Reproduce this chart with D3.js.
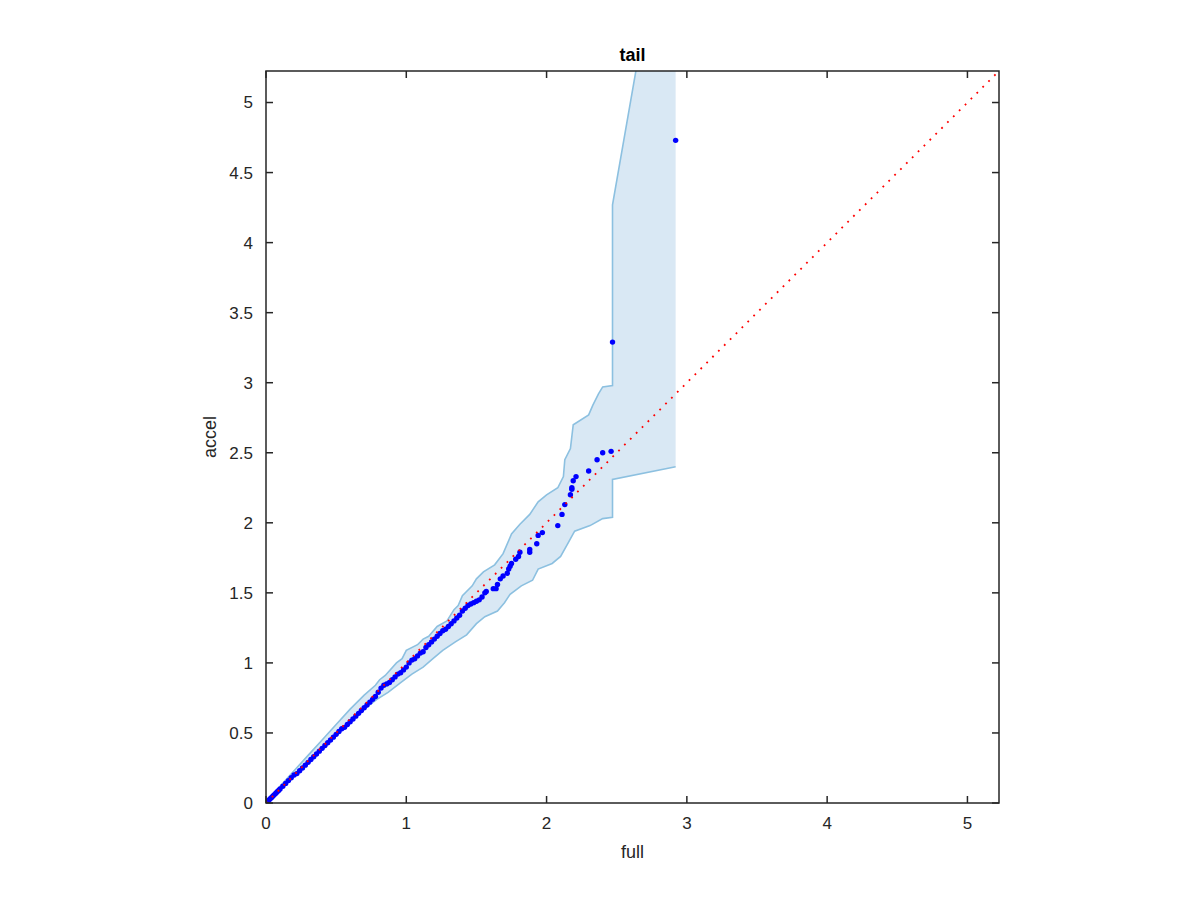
<!DOCTYPE html>
<meta charset="utf-8">
<style>
  body { margin: 0; background: #fff; }
  svg { font-family: 'Liberation Sans', Arial, sans-serif; }
</style>
<script src="https://d3js.org/d3.v7.min.js"></script>
<body>
<svg id="chart" width="1200" height="900"></svg>
<script>

// quantiles: full (x) vs accel (y)
var fullQ = [0.00,0.01,0.02,0.03,0.04,0.05,0.06,0.07,0.08,0.09,0.10,0.12,0.14,0.16,0.18,0.20,0.22,0.24,0.26,0.28,
  0.30,0.32,0.34,0.36,0.38,0.40,0.42,0.44,0.46,0.48,0.50,0.52,0.54,0.56,0.58,0.60,0.62,0.64,0.66,0.68,
  0.70,0.72,0.74,0.76,0.78,0.80,0.82,0.84,0.86,0.88,0.90,0.92,0.94,0.96,0.98,1.00,1.02,1.04,1.06,1.08,
  1.10,1.12,1.14,1.16,1.18,1.20,1.22,1.24,1.26,1.28,1.30,1.32,1.34,1.36,1.38,1.40,1.42,1.44,1.46,1.48,
  1.50,1.52,1.54,1.56,1.57,1.62,1.64,1.65,1.67,1.69,1.72,1.73,1.74,1.75,1.78,1.80,1.81,1.88,1.88,1.93,
  1.94,1.97,2.08,2.11,2.13,2.17,2.18,2.18,2.19,2.21,2.30,2.36,2.40,2.46,2.47,2.92];
var accelQ = [0.00,0.01,0.02,0.03,0.04,0.05,0.06,0.07,0.08,0.09,0.10,0.12,0.14,0.16,0.18,0.20,0.21,0.23,0.25,0.27,
  0.29,0.31,0.33,0.35,0.37,0.39,0.41,0.43,0.45,0.47,0.49,0.51,0.53,0.54,0.56,0.58,0.60,0.62,0.64,0.66,
  0.68,0.70,0.72,0.74,0.76,0.79,0.82,0.84,0.85,0.86,0.88,0.90,0.92,0.93,0.95,0.97,1.00,1.02,1.03,1.05,
  1.07,1.08,1.11,1.13,1.15,1.17,1.19,1.21,1.23,1.24,1.26,1.28,1.30,1.32,1.34,1.37,1.39,1.41,1.42,1.43,
  1.44,1.45,1.47,1.50,1.51,1.53,1.53,1.56,1.60,1.62,1.64,1.67,1.69,1.71,1.74,1.76,1.79,1.79,1.81,1.85,
  1.91,1.93,1.98,2.06,2.13,2.20,2.24,2.25,2.30,2.33,2.37,2.45,2.50,2.51,3.29,4.73];

// envelope, upper and lower edges
var upperX = [0,0.05,0.10,0.20,0.30,0.40,0.50,0.60,0.70,0.78,0.81,0.85,0.93,0.97,1.00,1.08,1.12,1.16,1.22,1.29,
  1.34,1.37,1.40,1.47,1.50,1.55,1.63,1.66,1.69,1.75,1.81,1.88,1.94,2.00,2.08,2.12,2.13,2.17,2.19,2.30,
  2.33,2.37,2.40,2.47,2.47,2.92];
var upperY = [0,0.06,0.12,0.23,0.34,0.45,0.56,0.67,0.77,0.84,0.88,0.91,1.00,1.03,1.09,1.13,1.17,1.19,1.26,1.30,
  1.38,1.41,1.48,1.55,1.60,1.65,1.70,1.74,1.78,1.92,1.99,2.06,2.15,2.20,2.25,2.33,2.45,2.53,2.70,2.77,
  2.84,2.92,2.97,2.98,4.27,6.85];
var lowerX = [0,0.10,0.20,0.30,0.40,0.50,0.60,0.70,0.79,0.87,0.96,1.00,1.04,1.12,1.19,1.26,1.35,1.43,1.50,1.56,
  1.65,1.70,1.74,1.82,1.90,1.94,2.04,2.10,2.15,2.20,2.31,2.40,2.47,2.47,2.92];
var lowerY = [0,0.09,0.19,0.28,0.38,0.48,0.58,0.67,0.74,0.79,0.86,0.89,0.92,0.97,1.03,1.09,1.15,1.20,1.28,1.33,
  1.37,1.43,1.49,1.55,1.59,1.67,1.71,1.76,1.85,1.94,1.98,2.03,2.04,2.31,2.40];

var xTicks = [0,1,2,3,4,5];
var yTicks = [0,0.5,1,1.5,2,2.5,3,3.5,4,4.5,5];

var svg = d3.select("#chart"),
    margin = {top: 71, left: 266},
    w = 733, h = 732,
    lim = 5.225;

var x = d3.scaleLinear().domain([0, lim]).range([0, w]);
var y = d3.scaleLinear().domain([0, lim]).range([h, 0]);

var g = svg.append("g").attr("transform", `translate(${margin.left},${margin.top})`);

svg.append("defs").append("clipPath").attr("id", "clip")
  .append("rect").attr("width", w).attr("height", h);

var plot = g.append("g").attr("clip-path", "url(#clip)");

// band
var upper = upperX.map((v, i) => [v, upperY[i]]);
var lower = lowerX.map((v, i) => [v, lowerY[i]]);
var line = d3.line().x(d => x(d[0])).y(d => y(d[1]));

plot.append("path")
  .attr("d", line(upper.concat(lower.slice().reverse())) + "Z")
  .attr("fill", "#d9e8f4")
  .attr("stroke", "none");
[upper, lower].forEach(function(pts) {
  plot.append("path")
    .attr("d", line(pts))
    .attr("fill", "none")
    .attr("stroke", "#8cc0e0")
    .attr("stroke-width", 1.6);
});

// blue points
plot.selectAll("circle.pt")
  .data(fullQ.map((v, i) => [v, accelQ[i]]))
  .enter().append("circle")
    .attr("class", "pt")
    .attr("cx", d => x(d[0]))
    .attr("cy", d => y(d[1]))
    .attr("r", 2.7)
    .attr("fill", "#0000ff");

// reference line
plot.append("line")
  .attr("x1", x(0)).attr("y1", y(0))
  .attr("x2", x(lim)).attr("y2", y(lim))
  .attr("stroke", "#ff0000")
  .attr("stroke-width", 1.8)
  .attr("stroke-dasharray", "1.8,6.5");

// axes box and ticks (inward on all four sides)
var axisCol = "#262626";
var tl = 7;
g.append("rect").attr("width", w).attr("height", h)
  .attr("fill", "none").attr("stroke", axisCol).attr("stroke-width", 1.5);

xTicks.forEach(function(t) {
  g.append("line").attr("x1", x(t)).attr("x2", x(t)).attr("y1", h).attr("y2", h - tl)
    .attr("stroke", axisCol).attr("stroke-width", 1.5);
  g.append("line").attr("x1", x(t)).attr("x2", x(t)).attr("y1", 0).attr("y2", tl)
    .attr("stroke", axisCol).attr("stroke-width", 1.5);
  g.append("text").attr("x", x(t)).attr("y", h + 26)
    .attr("text-anchor", "middle").attr("font-size", 17).attr("fill", axisCol).text(t);
});
yTicks.forEach(function(t) {
  g.append("line").attr("x1", 0).attr("x2", tl).attr("y1", y(t)).attr("y2", y(t))
    .attr("stroke", axisCol).attr("stroke-width", 1.5);
  g.append("line").attr("x1", w).attr("x2", w - tl).attr("y1", y(t)).attr("y2", y(t))
    .attr("stroke", axisCol).attr("stroke-width", 1.5);
  g.append("text").attr("x", -13).attr("y", y(t)).attr("dy", "0.35em")
    .attr("text-anchor", "end").attr("font-size", 17).attr("fill", axisCol).text(t);
});

// labels
g.append("text").attr("x", w / 2).attr("y", h + 55)
  .attr("text-anchor", "middle").attr("font-size", 18).attr("fill", axisCol).text("full");
g.append("text").attr("transform", `translate(-50,${h / 2}) rotate(-90)`)
  .attr("text-anchor", "middle").attr("font-size", 18).attr("fill", axisCol).text("accel");
g.append("text").attr("x", w / 2).attr("y", -10)
  .attr("text-anchor", "middle").attr("font-size", 18).attr("font-weight", "bold")
  .attr("fill", "#000").text("tail");

</script>
</body>
